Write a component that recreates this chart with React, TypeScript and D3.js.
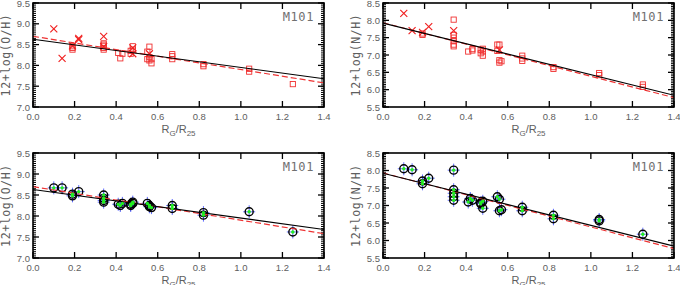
import React from "react";
import * as d3 from "d3";

// ---- data ----
const ohCrossX = [0.10, 0.14, 0.19, 0.22, 0.22, 0.34, 0.34, 0.48, 0.48, 0.56];
const ohCrossY = [8.88, 8.17, 8.47, 8.62, 8.65, 8.70, 8.45, 8.28, 8.42, 8.28];
const ohSqX = [0.19, 0.19, 0.19, 0.34, 0.34, 0.34, 0.34, 0.34, 0.41, 0.42, 0.43, 0.47, 0.47, 0.48, 0.48, 0.55, 0.55, 0.56, 0.56, 0.56, 0.57, 0.57, 0.67, 0.67, 0.67, 0.82, 0.82, 1.04, 1.04, 1.25];
const ohSqY = [8.38, 8.42, 8.46, 8.38, 8.42, 8.47, 8.50, 8.53, 8.30, 8.17, 8.28, 8.28, 8.35, 8.46, 8.38, 8.33, 8.15, 8.45, 8.12, 8.20, 8.05, 8.15, 8.27, 8.22, 8.15, 8.03, 7.98, 7.92, 7.85, 7.55];

const nhCrossX = [0.10, 0.14, 0.19, 0.22, 0.34, 0.56];
const nhCrossY = [8.20, 7.70, 7.65, 7.82, 7.70, 7.15];
const nhSqX = [0.19, 0.19, 0.34, 0.34, 0.34, 0.34, 0.34, 0.34, 0.41, 0.43, 0.43, 0.47, 0.47, 0.48, 0.48, 0.48, 0.55, 0.55, 0.56, 0.56, 0.57, 0.56, 0.67, 0.67, 0.67, 0.82, 0.82, 1.04, 1.04, 1.25, 1.25];
const nhSqY = [7.58, 7.62, 8.02, 7.58, 7.50, 7.40, 7.30, 7.25, 7.10, 7.13, 7.17, 7.15, 7.05, 7.18, 7.10, 6.98, 7.30, 7.12, 7.30, 6.78, 6.82, 6.85, 6.98, 6.90, 6.83, 6.65, 6.60, 6.48, 6.42, 6.15, 6.08];

const ohCircX = [0.10, 0.14, 0.19, 0.19, 0.22, 0.34, 0.34, 0.34, 0.34, 0.41, 0.43, 0.42, 0.47, 0.48, 0.48, 0.47, 0.55, 0.56, 0.57, 0.56, 0.67, 0.67, 0.82, 0.82, 1.04, 1.25];
const ohCircY = [8.67, 8.67, 8.48, 8.52, 8.58, 8.50, 8.42, 8.37, 8.33, 8.28, 8.30, 8.25, 8.28, 8.30, 8.33, 8.25, 8.30, 8.25, 8.20, 8.22, 8.25, 8.18, 8.08, 8.02, 8.10, 7.62];

const nhCircX = [0.10, 0.14, 0.19, 0.19, 0.22, 0.34, 0.34, 0.34, 0.34, 0.34, 0.41, 0.42, 0.43, 0.47, 0.48, 0.48, 0.47, 0.55, 0.56, 0.56, 0.57, 0.67, 0.67, 0.82, 0.82, 1.04, 1.04, 1.25];
const nhCircY = [8.05, 8.02, 7.70, 7.62, 7.78, 8.01, 7.45, 7.35, 7.25, 7.15, 7.10, 7.20, 7.15, 7.08, 7.12, 6.92, 7.05, 7.25, 7.18, 6.85, 6.88, 6.95, 6.85, 6.72, 6.62, 6.60, 6.56, 6.18];

// fit lines: [y at x=0, y at x=1.4]
const ohBlackFit = [8.63, 7.68];
const ohRedFit = [8.70, 7.58];
const nhBlackFit = [7.92, 5.84];
const nhRedFit = [7.93, 5.77];

const xTicks = [0.0, 0.2, 0.4, 0.6, 0.8, 1.0, 1.2, 1.4];
const ohTicks = [7.0, 7.5, 8.0, 8.5, 9.0, 9.5];
const nhTicks = [5.5, 6.0, 6.5, 7.0, 7.5, 8.0, 8.5];

const GREY = "#5e5e5e";
const FONT = "'Liberation Sans', Arial, sans-serif";
const MONO = "'DejaVu Sans Mono', monospace";

type PanelProps = {
  left: number; right: number; top: number; bottom: number;
  yDomain: [number, number]; yTicks: number[]; yLabel: string;
  black: number[]; red: number[];
  kind: "raw" | "circ";
  crossX?: number[]; crossY?: number[]; sqX?: number[]; sqY?: number[];
  cX?: number[]; cY?: number[];
};

function Panel(p: PanelProps) {
  const x = d3.scaleLinear().domain([0, 1.4]).range([p.left, p.right]);
  const y = d3.scaleLinear().domain(p.yDomain).range([p.bottom, p.top]);
  const minorY = d3.range(p.yDomain[0], p.yDomain[1] + 1e-9, 0.05);
  const line = d3.line<number[]>().x((d) => x(d[0])).y((d) => y(d[1]));
  const blackPath = line([[0, p.black[0]], [1.4, p.black[1]]]) || "";
  const redPath = line([[0, p.red[0]], [1.4, p.red[1]]]) || "";
  const midY = (p.top + p.bottom) / 2;
  const midX = (p.left + p.right) / 2;
  return (
    <g>
      <defs>
        <clipPath id={`clip${p.left}${p.top}`}>
          <rect x={p.left} y={p.top} width={p.right - p.left} height={p.bottom - p.top} />
        </clipPath>
      </defs>
      {minorY.map((v, i) => (
        <g key={"my" + i}>
          <line x1={p.left} x2={p.left + 3} y1={y(v)} y2={y(v)} stroke="#000" strokeWidth={1} />
          <line x1={p.right} x2={p.right - 3} y1={y(v)} y2={y(v)} stroke="#000" strokeWidth={1} />
        </g>
      ))}
      {p.yTicks.map((v, i) => (
        <g key={"y" + i}>
          <line x1={p.left} x2={p.left + 6} y1={y(v)} y2={y(v)} stroke="#000" strokeWidth={1.3} />
          <line x1={p.right} x2={p.right - 6} y1={y(v)} y2={y(v)} stroke="#000" strokeWidth={1.3} />
          <text x={p.left - 3} y={y(v) + 3.5} textAnchor="end" fontSize={9.5} fill={GREY} fontFamily={FONT}>{v.toFixed(1)}</text>
        </g>
      ))}
      {xTicks.map((v, i) => (
        <g key={"x" + i}>
          <line x1={x(v)} x2={x(v)} y1={p.bottom} y2={p.bottom - 6} stroke="#000" strokeWidth={1.3} />
          <line x1={x(v)} x2={x(v)} y1={p.top} y2={p.top + 6} stroke="#000" strokeWidth={1.3} />
          <text x={x(v)} y={p.bottom + 13} textAnchor="middle" fontSize={9.5} fill={GREY} fontFamily={FONT}>{v.toFixed(1)}</text>
        </g>
      ))}
      <g clipPath={`url(#clip${p.left}${p.top})`}>
        {p.kind === "raw" && p.sqX && p.sqX.map((v, i) => (
          <rect key={"s" + i} x={x(v) - 2.6} y={y(p.sqY![i]) - 2.6} width={5.2} height={5.2} fill="none" stroke="#f03030" strokeWidth={0.9} />
        ))}
        {p.kind === "raw" && p.crossX && p.crossX.map((v, i) => {
          const cx = x(v), cy = y(p.crossY![i]);
          return (
            <g key={"c" + i} stroke="#f02020" strokeWidth={1.1}>
              <line x1={cx - 3.5} x2={cx + 3.5} y1={cy - 3.5} y2={cy + 3.5} />
              <line x1={cx - 3.5} x2={cx + 3.5} y1={cy + 3.5} y2={cy - 3.5} />
            </g>
          );
        })}
        {p.kind === "circ" && p.cX && p.cX.map((v, i) => {
          const cx = x(v), cy = y(p.cY![i]);
          return (
            <g key={"e" + i} stroke="#3848ff" strokeWidth={1} opacity={0.8}>
              <line x1={cx - 6} x2={cx + 6} y1={cy} y2={cy} />
              <line x1={cx} x2={cx} y1={cy - 6.5} y2={cy + 6.5} />
            </g>
          );
        })}
        {p.kind === "circ" && p.cX && p.cX.map((v, i) => (
          <circle key={"o" + i} cx={x(v)} cy={y(p.cY![i])} r={4} fill="none" stroke="#000" strokeWidth={1.4} />
        ))}
        <path d={redPath} stroke="#ee3333" strokeWidth={1.2} strokeDasharray="6,3" fill="none" />
        <path d={blackPath} stroke="#000" strokeWidth={1.1} fill="none" />
        {p.kind === "circ" && p.cX && p.cX.map((v, i) => (
          <circle key={"g" + i} cx={x(v)} cy={y(p.cY![i])} r={1.7} fill="#22ee22" />
        ))}
      </g>
      <rect x={p.left} y={p.top} width={p.right - p.left} height={p.bottom - p.top} fill="none" stroke="#000" strokeWidth={1.6} />
      <text x={p.right - 10} y={p.top + 18} textAnchor="end" fontSize={12} fill="#707070" fontFamily={MONO} letterSpacing={0.6}>M101</text>
      <text transform={`translate(${p.left - 23},${midY}) rotate(-90)`} textAnchor="middle" fontSize={11.5} fill={GREY} fontFamily={MONO} letterSpacing={0.6}>{p.yLabel}</text>
      <text x={midX} y={p.bottom + 26} textAnchor="middle" fontSize={11} fill={GREY} fontFamily={FONT}>
        R<tspan fontSize={8} dy={3}>G</tspan><tspan dy={-3}>/R</tspan><tspan fontSize={8} dy={3}>25</tspan>
      </text>
    </g>
  );
}

export default function App() {
  return (
    <svg width={680} height={285} style={{ display: "block", position: "absolute", left: 0, top: 0, background: "#fff" }}>
      <Panel left={33} right={324} top={3} bottom={107} yDomain={[7.0, 9.5]} yTicks={ohTicks} yLabel="12+log(O/H)"
        black={ohBlackFit} red={ohRedFit} kind="raw" crossX={ohCrossX} crossY={ohCrossY} sqX={ohSqX} sqY={ohSqY} />
      <Panel left={383} right={674} top={3} bottom={107} yDomain={[5.5, 8.5]} yTicks={nhTicks} yLabel="12+log(N/H)"
        black={nhBlackFit} red={nhRedFit} kind="raw" crossX={nhCrossX} crossY={nhCrossY} sqX={nhSqX} sqY={nhSqY} />
      <Panel left={33} right={324} top={153} bottom={258} yDomain={[7.0, 9.5]} yTicks={ohTicks} yLabel="12+log(O/H)"
        black={ohBlackFit} red={ohRedFit} kind="circ" cX={ohCircX} cY={ohCircY} />
      <Panel left={383} right={674} top={153} bottom={258} yDomain={[5.5, 8.5]} yTicks={nhTicks} yLabel="12+log(N/H)"
        black={nhBlackFit} red={nhRedFit} kind="circ" cX={nhCircX} cY={nhCircY} />
    </svg>
  );
}
